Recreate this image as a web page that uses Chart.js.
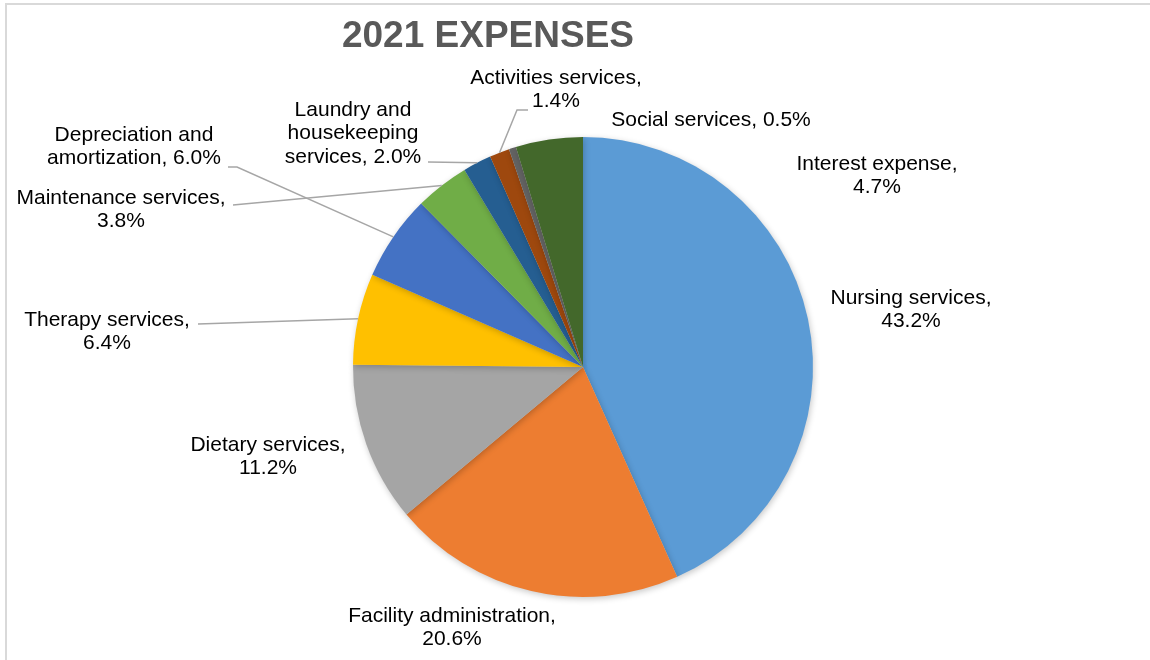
<!DOCTYPE html>
<html>
<head>
<meta charset="utf-8">
<script src="https://cdn.jsdelivr.net/npm/chart.js@4"></script>
<style>
  html, body { margin: 0; padding: 0; background: #fff; }
  #wrap { width: 1150px; height: 660px; }
</style>
</head>
<body>
<div id="wrap"><canvas id="chart" width="1150" height="660"></canvas></div>
<script>
// dados do gráfico
const titulo = '2021 EXPENSES';
const categorias = ['Nursing services', 'Facility administration', 'Dietary services', 'Therapy services',
  'Depreciation and amortization', 'Maintenance services', 'Laundry and housekeeping services',
  'Activities services', 'Social services', 'Interest expense'];
const percentuais = [43.2, 20.6, 11.2, 6.4, 6.0, 3.8, 2.0, 1.4, 0.5, 4.7];
const cores = ['#5B9BD5', '#ED7D31', '#A5A5A5', '#FFC000', '#4472C4', '#70AD47', '#255E91', '#9E480E', '#636363', '#43682B'];

// posição dos rótulos (centro da primeira linha), largura de quebra e pontos da linha guia
const rotulos = [
  { x: 911, y: 298, wrap: 190 },
  { x: 452, y: 616, wrap: 230 },
  { x: 268, y: 445, wrap: 190 },
  { x: 107, y: 320, wrap: 190, guia: [[198, 324]] },
  { x: 134, y: 135, wrap: 190, guia: [[228, 167], [237, 167]] },
  { x: 121, y: 198, wrap: 230, guia: [[233, 205]] },
  { x: 353, y: 110, wrap: 150, guia: [[428, 162]] },
  { x: 556, y: 78, wrap: 200, guia: [[528, 110], [517, 110]] },
  { x: 711, y: 120, wrap: 230 },
  { x: 877, y: 164, wrap: 190 }
];

const FONTE = '"Liberation Sans", Arial, sans-serif';

function quebrar(ctx, texto, largura) {
  const palavras = texto.split(' ');
  const linhas = [];
  let atual = '';
  palavras.forEach(p => {
    const teste = atual ? atual + ' ' + p : p;
    if (atual && ctx.measureText(teste).width > largura) {
      linhas.push(atual);
      atual = p;
    } else {
      atual = teste;
    }
  });
  if (atual) linhas.push(atual);
  return linhas;
}

// sombra leve nas fatias
const sombra = {
  id: 'sombra',
  beforeDatasetsDraw(chart) {
    const ctx = chart.ctx;
    ctx.save();
    ctx.shadowColor = 'rgba(0,0,0,0.22)';
    ctx.shadowBlur = 6;
    ctx.shadowOffsetX = 1;
    ctx.shadowOffsetY = 2;
  },
  afterDatasetsDraw(chart) {
    chart.ctx.restore();
  }
};

// moldura, título, rótulos e linhas guia
const extras = {
  id: 'extras',
  beforeDraw(chart) {
    const ctx = chart.ctx;
    ctx.save();
    ctx.fillStyle = '#fff';
    ctx.fillRect(0, 0, chart.width, chart.height);
    ctx.strokeStyle = '#d9d9d9';
    ctx.lineWidth = 2;
    ctx.beginPath();
    ctx.moveTo(6, chart.height);
    ctx.lineTo(6, 4);
    ctx.lineTo(chart.width, 4);
    ctx.stroke();
    ctx.restore();
  },
  afterDraw(chart) {
    const ctx = chart.ctx;
    const arcos = chart.getDatasetMeta(0).data;
    ctx.save();

    ctx.fillStyle = '#595959';
    ctx.font = 'bold 37px ' + FONTE;
    ctx.textAlign = 'center';
    ctx.textBaseline = 'middle';
    ctx.fillText(titulo, 488, 37);

    // linhas guia
    ctx.strokeStyle = '#a6a6a6';
    ctx.lineWidth = 1.5;
    rotulos.forEach((r, i) => {
      if (!r.guia) return;
      const a = arcos[i];
      const meio = (a.startAngle + a.endAngle) / 2;
      const px = a.x + Math.cos(meio) * a.outerRadius;
      const py = a.y + Math.sin(meio) * a.outerRadius;
      ctx.beginPath();
      ctx.moveTo(r.guia[0][0], r.guia[0][1]);
      for (let k = 1; k < r.guia.length; k++) ctx.lineTo(r.guia[k][0], r.guia[k][1]);
      ctx.lineTo(px, py);
      ctx.stroke();
    });

    // textos
    ctx.fillStyle = '#000';
    ctx.font = '21px ' + FONTE;
    rotulos.forEach((r, i) => {
      const texto = categorias[i] + ', ' + percentuais[i].toFixed(1) + '%';
      const linhas = quebrar(ctx, texto, r.wrap);
      linhas.forEach((l, k) => ctx.fillText(l, r.x, r.y + k * 23.5));
    });
    ctx.restore();
  }
};

new Chart(document.getElementById('chart'), {
  type: 'pie',
  data: {
    labels: categorias,
    datasets: [{
      data: percentuais,
      backgroundColor: cores,
      borderWidth: 0
    }]
  },
  options: {
    responsive: false,
    animation: false,
    layout: { padding: { top: 137, bottom: 63, left: 353, right: 337 } },
    plugins: {
      legend: { display: false },
      title: { display: false },
      tooltip: { enabled: false }
    }
  },
  plugins: [sombra, extras]
});
</script>
</body>
</html>
